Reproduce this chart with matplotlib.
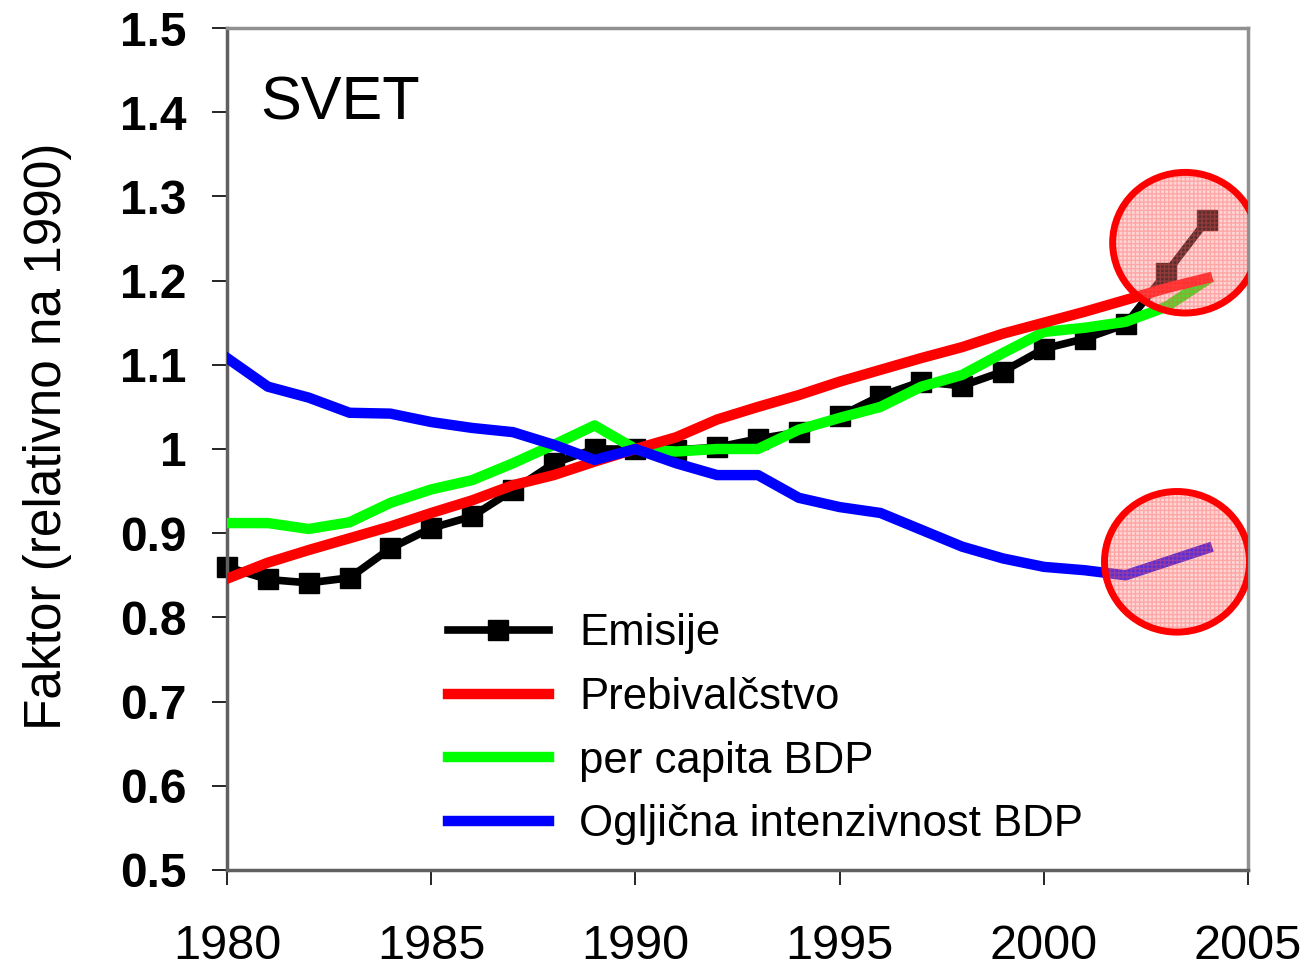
import matplotlib
matplotlib.use("Agg")
import matplotlib.pyplot as plt
from matplotlib.patches import Ellipse
import numpy as np

plt.rcParams['font.family'] = ['Liberation Sans', 'DejaVu Sans']

years = list(range(1980, 2005))

emisije = [0.860, 0.845, 0.841, 0.847, 0.882, 0.906, 0.920, 0.951, 0.983, 1.000,
           1.000, 0.999, 1.002, 1.012, 1.020, 1.039, 1.063, 1.080, 1.075, 1.092,
           1.119, 1.131, 1.148, 1.209, 1.272]
prebivalstvo = [0.846, 0.865, 0.880, 0.894, 0.908, 0.924, 0.939, 0.957, 0.969, 0.985,
                1.000, 1.014, 1.035, 1.050, 1.064, 1.080, 1.094, 1.108, 1.121, 1.137,
                1.150, 1.163, 1.177, 1.191, 1.203]
bdp_pc = [0.912, 0.912, 0.905, 0.913, 0.936, 0.952, 0.963, 0.983, 1.005, 1.028,
          1.000, 0.997, 1.000, 1.000, 1.023, 1.037, 1.050, 1.074, 1.088, 1.114,
          1.139, 1.144, 1.151, 1.169, 1.201]
intenzivnost = [1.108, 1.074, 1.061, 1.043, 1.042, 1.032, 1.025, 1.020, 1.005, 0.987,
                1.000, 0.983, 0.969, 0.969, 0.942, 0.931, 0.924, 0.904, 0.884, 0.870,
                0.860, 0.856, 0.850, 0.866, 0.882]

labels = ['Emisije', 'Prebivalčstvo', 'per capita BDP', 'Ogljična intenzivnost BDP']

yticks = [0.5, 0.6, 0.7, 0.8, 0.9, 1.0, 1.1, 1.2, 1.3, 1.4, 1.5]
ytick_labels = ['0.5', '0.6', '0.7', '0.8', '0.9', '1', '1.1', '1.2', '1.3', '1.4', '1.5']
xticks = [1980, 1985, 1990, 1995, 2000, 2005]

# highlighted areas (centre x, centre y, width, height)
krogi = [(2003.46, 1.245, 3.55, 0.167), (2003.26, 0.866, 3.55, 0.167)]

fig = plt.figure(figsize=(13.14, 9.69), dpi=100)
ax = fig.add_axes([0.1728, 0.1022, 0.777, 0.8689])

h1, = ax.plot(years, emisije, color='black', lw=5.5, marker='s', markersize=15,
              label=labels[0], zorder=2, clip_on=False)
h2, = ax.plot(years, prebivalstvo, color='#ff0000', lw=7.5, label=labels[1], zorder=4)
h3, = ax.plot(years, bdp_pc, color='#00ff00', lw=7.5, label=labels[2], zorder=3)
h4, = ax.plot(years, intenzivnost, color='#0000ff', lw=7.5, label=labels[3], zorder=5)

for cx, cy, w, h in krogi:
    ax.add_patch(Ellipse((cx, cy), w, h, facecolor=(1, 0.55, 0.55, 0.35),
                         edgecolor=(1, 0.3, 0.3, 0.35), hatch='++++', lw=0, zorder=6))
    ax.add_patch(Ellipse((cx, cy), w, h, facecolor='none', edgecolor='#ff0000',
                         lw=5, zorder=7))

ax.set_xlim(1980, 2005)
ax.set_ylim(0.5, 1.5)
ax.set_xticks(xticks)
ax.set_xticklabels([str(x) for x in xticks], fontsize=35)
ax.set_yticks(yticks)
ax.set_yticklabels(ytick_labels, fontsize=34.5, fontweight='bold')
ax.tick_params(axis='x', length=11, width=1.2, pad=28, direction='out')
ax.tick_params(axis='y', length=11, width=1.2, pad=18, direction='out')

for side in ['left', 'bottom']:
    ax.spines[side].set_color('#606060')
    ax.spines[side].set_linewidth(2.5)
for side in ['top', 'right']:
    ax.spines[side].set_color('#909090')
    ax.spines[side].set_linewidth(2.5)

ax.set_ylabel('Faktor (relativno na 1990)', fontsize=37)
ax.yaxis.set_label_coords(-0.152, 0.515)

ax.text(0.032, 0.891, 'SVET', transform=ax.transAxes, fontsize=44,
        ha='left', va='baseline')

ax.legend(handles=[h1, h2, h3, h4], loc='upper left', bbox_to_anchor=(0.2165, 0.305),
          frameon=False, fontsize=31.5, handlelength=2.3, handletextpad=0.7,
          labelspacing=0.52, borderpad=0, borderaxespad=0)

fig.savefig('out.png', dpi=100)
